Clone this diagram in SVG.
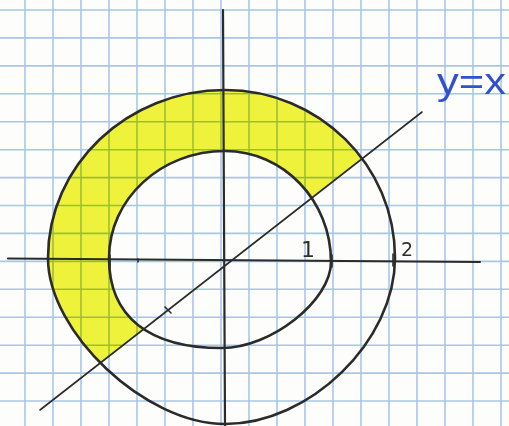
<svg xmlns="http://www.w3.org/2000/svg" width="509" height="426" viewBox="0 0 509 426">
<style>
.grid{stroke:#a8c6e8;stroke-width:1.6;fill:none}
.ink{stroke:#2b2b2b;fill:none;stroke-linecap:round;stroke-linejoin:round}
.curve{stroke-width:2.6}
.axis{stroke-width:2.2}
.thin{stroke-width:1.6}
.lbl{font-family:"DejaVu Sans","Liberation Sans",sans-serif;fill:#2e2e2e}
.blue{font-family:"Liberation Sans","DejaVu Sans",sans-serif;fill:#3350cc}
</style>
<defs>
<path id="outer" d="M48,258 C48,165.2 127.2,90 225,90 C318.9,90 395,165.2 395,258 C395,341 310,424 225,424 C145.35,424 48,332.7 48,258 Z"/>
<path id="inner" d="M109,258 C109,198.9 160.9,151 225,151 C283.5,151 331,200.7 331,262 C331,300.7 271,348 222,348 C148.55,348 109,316.5 109,258 Z"/>
<clipPath id="above">
<polygon points="-10,449 520,35.6 520,-10 -10,-10"/>
</clipPath>
</defs>
<rect width="509" height="426" fill="#fdfdfb"/>
<g id="grid" class="grid">
<path d="M25,0V426M53,0V426M81,0V426M109,0V426M137,0V426M165,0V426M193,0V426M221,0V426M249,0V426M277,0V426M305,0V426M333,0V426M361,0V426M389,0V426M417,0V426M445,0V426M473,0V426M501,0V426"/>
<path d="M0,10H509M0,37.9H509M0,65.9H509M0,93.8H509M0,121.7H509M0,149.7H509M0,177.6H509M0,205.5H509M0,233.4H509M0,261.4H509M0,289.3H509M0,317.2H509M0,345.2H509M0,373.1H509M0,401H509"/>
</g>
<g id="region" clip-path="url(#above)" style="mix-blend-mode:multiply">
<path d="M48,258 C48,165.2 127.2,90 225,90 C318.9,90 395,165.2 395,258 C395,341 310,424 225,424 C145.35,424 48,332.7 48,258 Z M109,258 C109,198.9 160.9,151 225,151 C283.5,151 331,200.7 331,262 C331,300.7 271,348 222,348 C148.55,348 109,316.5 109,258 Z" fill="#f0f43c" fill-rule="evenodd"/>
</g>
<g id="axes" class="ink axis">
<path d="M8,258.5 L480,262"/>
<path d="M223,10 L225,426"/>
<path d="M48,252V266M110,255V268M332,255V267M393,254V266M138,259V262" class="thin"/>
</g>
<g id="circles" class="ink curve">
<use href="#outer"/>
<use href="#inner"/>
</g>
<g id="line" class="ink thin">
<path d="M40,410 L422,112"/>
<path d="M165,307 L171,313"/>
</g>
<g id="labels">
<text class="lbl" x="301" y="257" font-size="22">1</text>
<text class="lbl" x="401" y="256" font-size="19">2</text>
<text class="blue" x="437" y="94" font-size="36" textLength="69" lengthAdjust="spacingAndGlyphs">y=x</text>
</g>
</svg>
